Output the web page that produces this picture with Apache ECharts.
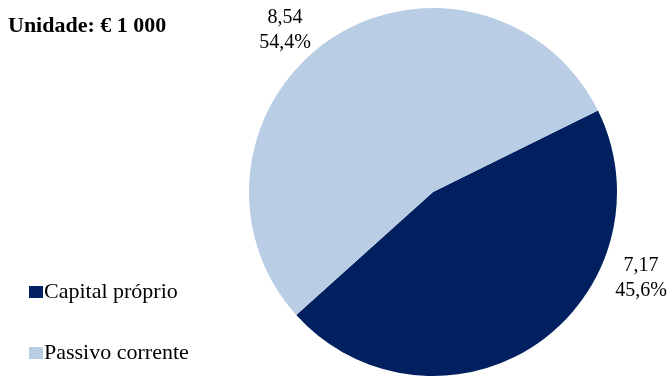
<!DOCTYPE html>
<html>
<head>
<meta charset="utf-8">
<script src="https://cdn.jsdelivr.net/npm/echarts@6/dist/echarts.min.js"></script>
<style>
html,body{margin:0;padding:0;background:#fff;}
#chart{width:672px;height:376px;}
</style>
</head>
<body>
<div id="chart"></div>
<script>
const categories = ['Capital próprio', 'Passivo corrente'];
const values = [7.17, 8.54];
const colors = ['#002060', '#B9CDE5'];
const titleText = 'Unidade: € 1 000';

const labelPos = [[641, 278], [285, 30]];

const total = values.reduce((a, b) => a + b, 0);
const fmt = (v, d) => v.toFixed(d).replace('.', ',');

const chart = echarts.init(document.getElementById('chart'));
chart.setOption({
  animation: false,
  title: {
    text: titleText,
    left: 8, top: 15, padding: 0,
    textStyle: { fontFamily: 'Liberation Serif', fontWeight: 'bold', fontSize: 22, color: '#000' }
  },
  legend: {
    orient: 'vertical',
    left: 29, top: 281, padding: 0,
    itemWidth: 14, itemHeight: 12,
    itemGap: 39,
    icon: 'rect',
    data: categories,
    textStyle: { fontFamily: 'Liberation Serif', fontSize: 22, color: '#000', lineHeight: 21, padding: [0, 0, 0, -4] }
  },
  series: [{
    type: 'pie',
    center: [433, 192],
    radius: 184,
    startAngle: 26.3,
    clockwise: true,
    data: categories.map((c, i) => ({ name: c, value: values[i], itemStyle: { color: colors[i] } })),
    label: {
      show: true,
      position: 'outside',
      fontFamily: 'Liberation Serif',
      fontSize: 20,
      lineHeight: 25,
      color: '#000',
      align: 'center',
      formatter: p => fmt(p.value, 2) + '\n' + fmt(p.value / total * 100, 1) + '%'
    },
    labelLine: { show: false },
    labelLayout: p => ({ x: labelPos[p.dataIndex][0], y: labelPos[p.dataIndex][1], align: 'center', verticalAlign: 'middle' }),
    emphasis: { disabled: true }
  }]
});
</script>
</body>
</html>
